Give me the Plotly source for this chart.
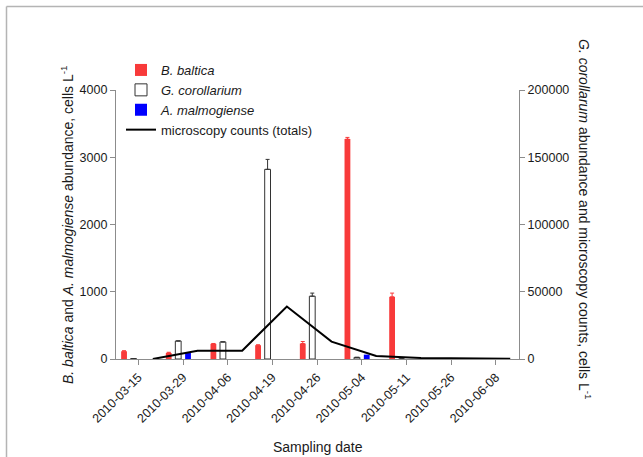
import plotly.graph_objects as go

# ---- data ----
dates = ["2010-03-15", "2010-03-29", "2010-04-06", "2010-04-19", "2010-04-26",
         "2010-05-04", "2010-05-11", "2010-05-26", "2010-06-08"]
b_baltica = [115, 90, 225, 205, 230, 3270, 925, 0, 5]
b_baltica_err = [8, 10, 6, 6, 30, 25, 55, 0, 0]
g_corollarium = [300, 13400, 12700, 141000, 46700, 1200, 0, 0, 0]
g_corollarium_err = [0, 0, 0, 7400, 2300, 0, 0, 0, 0]
a_malmogiense = [0, 90, 0, 0, 0, 65, 0, 0, 0]
microscopy_totals = [0, 6200, 6200, 39000, 12900, 2200, 750, 200, 100]

idx = list(range(len(dates)))
FONT = "Liberation Sans, Arial, sans-serif"
AXIS_COL = "#8c8c8c"
TXT = "#1a1a1a"

# group slot offsets (4 datasets per date, GraphPad style)
slot = {"red": -0.32, "white": -0.107, "blue": 0.112, "line": 0.324}
bw = 0.13

fig = go.Figure()
fig.add_trace(go.Bar(
    x=idx, y=b_baltica, name="<i>B. baltica</i>", offset=slot["red"] - bw / 2, width=bw,
    marker=dict(color="#f83a3a", line=dict(width=0)),
    error_y=dict(type="data", array=b_baltica_err, arrayminus=[0] * len(idx),
                 symmetric=False, color="#f83a3a", thickness=1, width=2),
    yaxis="y"))
fig.add_trace(go.Bar(
    x=idx, y=g_corollarium, name="<i>G. corollarium</i>", offset=slot["white"] - bw / 2, width=bw,
    marker=dict(color="white", line=dict(color="#333333", width=1)),
    error_y=dict(type="data", array=g_corollarium_err, arrayminus=[0] * len(idx),
                 symmetric=False, color="#333333", thickness=1, width=2),
    yaxis="y2"))
fig.add_trace(go.Bar(
    x=idx, y=a_malmogiense, name="<i>A. malmogiense</i>", offset=slot["blue"] - bw / 2, width=bw,
    marker=dict(color="#0000ff", line=dict(width=0)),
    yaxis="y"))
fig.add_trace(go.Scatter(
    x=[i + slot["line"] for i in idx], y=microscopy_totals, name="microscopy counts (totals)",
    mode="lines", line=dict(color="black", width=2), yaxis="y2"))

W, H = 643, 457
L, R, T, B = 116, 124, 90, 98
pw, ph = W - L - R, H - T - B

def px(xp):
    return (xp - L) / pw

def py(yp):
    return (H - B - yp) / ph

fig.update_layout(
    width=W, height=H,
    margin=dict(l=L, r=R, t=T, b=B, pad=0),
    paper_bgcolor="white", plot_bgcolor="white",
    barmode="overlay",
    font=dict(family=FONT, size=12, color=TXT),
    showlegend=True,
    legend=dict(x=px(121), y=py(55), xanchor="left", yanchor="top",
                bgcolor="rgba(0,0,0,0)", font=dict(size=13, color=TXT),
                itemwidth=30, tracegroupgap=0),
    xaxis=dict(range=[-0.5, 8.52], tickmode="array", tickvals=idx, ticktext=dates,
               tickangle=-45, showgrid=False, zeroline=False, showline=True,
               linecolor=AXIS_COL, linewidth=1.2, ticks="outside", ticklen=5,
               tickcolor=AXIS_COL, tickfont=dict(size=12.5, color=TXT)),
    yaxis=dict(range=[0, 4000], tickvals=[0, 1000, 2000, 3000, 4000],
               showgrid=False, zeroline=False, showline=True, linecolor=AXIS_COL,
               linewidth=1.2, ticks="outside", ticklen=5, tickcolor=AXIS_COL,
               tickfont=dict(size=12.5, color=TXT)),
    yaxis2=dict(range=[0, 200000], tickvals=[0, 50000, 100000, 150000, 200000],
                overlaying="y", side="right", showgrid=False, zeroline=False,
                showline=True, linecolor=AXIS_COL, linewidth=1.2, ticks="outside",
                ticklen=5, tickcolor=AXIS_COL, tickformat="d",
                tickfont=dict(size=12.5, color=TXT)),
    annotations=[
        dict(text="<i>B. baltica</i> and <i>A. malmogiense</i> abundance, cells L<sup>-1</sup>",
             xref="paper", yref="paper", x=px(67), y=py(225), textangle=-90,
             showarrow=False, font=dict(size=14, color=TXT), xanchor="center", yanchor="middle"),
        dict(text="<i>G. corollarum</i> abundance and microscopy counts, cells L<sup>-1</sup>",
             xref="paper", yref="paper", x=px(585), y=py(219), textangle=90,
             showarrow=False, font=dict(size=14, color=TXT), xanchor="center", yanchor="middle"),
        dict(text="Sampling date", xref="paper", yref="paper", x=px(318), y=py(447),
             showarrow=False, font=dict(size=14, color=TXT), xanchor="center", yanchor="middle"),
    ],
    shapes=[
        dict(type="line", xref="paper", yref="paper", x0=px(6.5), x1=px(6.5),
             y0=py(6.5), y1=py(H), line=dict(color="#b4b4b4", width=1.5)),
        dict(type="line", xref="paper", yref="paper", x0=px(6.5), x1=px(W),
             y0=py(6.5), y1=py(6.5), line=dict(color="#b4b4b4", width=1.5)),
    ],
)

fig.write_html("out.html", config={"displayModeBar": False},
               post_script="document.body.style.margin='0';document.body.style.overflow='hidden';")
